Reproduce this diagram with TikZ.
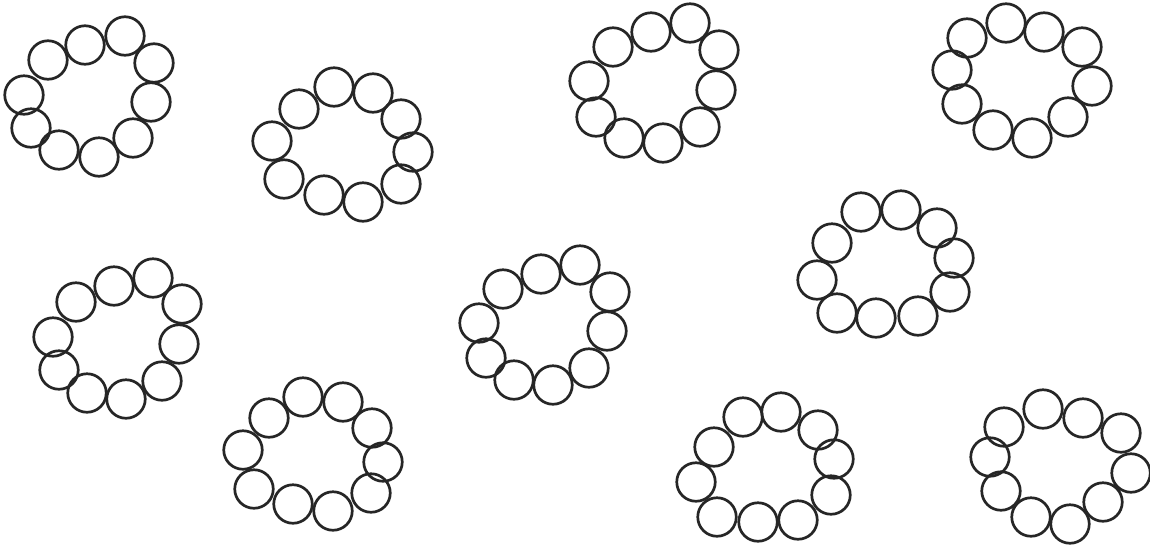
\documentclass[tikz,border=0pt]{standalone}
\begin{document}
\begin{tikzpicture}[x=1pt, y=-1pt]
  \tikzstyle{bead}=[circle, draw=black!85, line width=2.7pt, minimum size=38.5pt, inner sep=0pt]
  \useasboundingbox (0,0) rectangle (1150,550);

  % top row
  \foreach \x/\y [count=\i] in {48/60, 85/45, 125/36, 154/63, 151/102, 133/138, 99/157, 59/150, 31/128, 24/95}
    \node[bead] (ringA-\i) at (\x,\y) {};
  \foreach \x/\y [count=\i] in {299/109, 334/87, 373/93, 401/119, 413/152, 401/184, 363/202, 324/195, 284/179, 272/141}
    \node[bead] (ringB-\i) at (\x,\y) {};
  \foreach \x/\y [count=\i] in {613/47, 651/32, 690/23, 719/50, 716/90, 700/127, 663/143, 624/138, 596/117, 589/81}
    \node[bead] (ringC-\i) at (\x,\y) {};
  \foreach \x/\y [count=\i] in {967/38, 1006/23, 1044/32, 1082/47, 1092/86, 1068/117, 1032/138, 993/130, 962/104, 952/70}
    \node[bead] (ringD-\i) at (\x,\y) {};

  % middle row
  \foreach \x/\y [count=\i] in {76/302, 114/286, 153/278, 182/304, 179/344, 162/381, 126/399, 87/393, 59/370, 53/337}
    \node[bead] (ringE-\i) at (\x,\y) {};
  \foreach \x/\y [count=\i] in {503/289, 541/274, 580/265, 610/292, 607/331, 589/368, 553/385, 514/380, 486/358, 479/323}
    \node[bead] (ringF-\i) at (\x,\y) {};
  \foreach \x/\y [count=\i] in {861/212, 901/210, 937/228, 954/258, 950/292, 918/316, 876/318, 837/313, 817/280, 832/243}
    \node[bead] (ringG-\i) at (\x,\y) {};

  % bottom row
  \foreach \x/\y [count=\i] in {269/418, 303/397, 343/402, 372/428, 383/462, 371/493, 333/511, 293/504, 254/489, 243/450}
    \node[bead] (ringH-\i) at (\x,\y) {};
  \foreach \x/\y [count=\i] in {714/447, 743/417, 781/412, 818/430, 834/459, 831/495, 798/520, 758/522, 717/517, 696/482}
    \node[bead] (ringI-\i) at (\x,\y) {};
  \foreach \x/\y [count=\i] in {1004/427, 1043/409, 1083/418, 1121/433, 1131/473, 1103/502, 1070/524, 1031/517, 1001/491, 990/457}
    \node[bead] (ringJ-\i) at (\x,\y) {};
\end{tikzpicture}
\end{document}
